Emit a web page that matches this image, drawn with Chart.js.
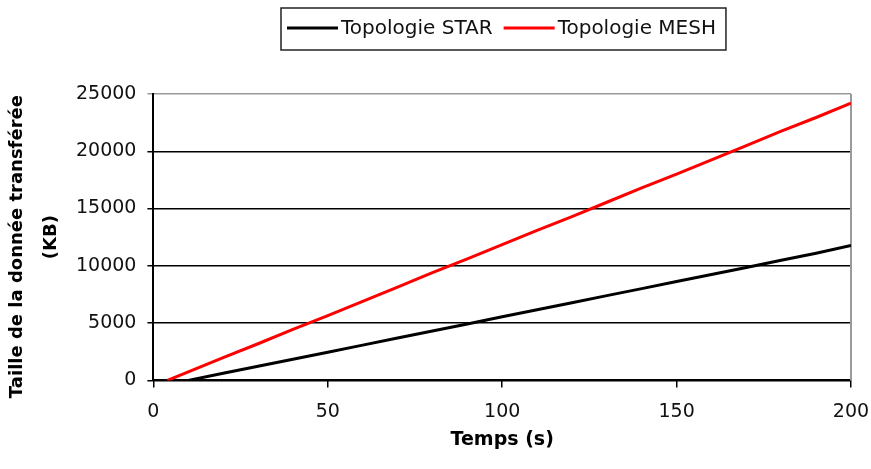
<!DOCTYPE html>
<html>
<head>
<meta charset="utf-8">
<script src="https://cdn.jsdelivr.net/npm/chart.js@4"></script>
<style>
  html, body { margin: 0; padding: 0; background: #fff; }
  #wrap { width: 871px; height: 469px; position: relative; }
</style>
</head>
<body>
<div id="wrap"><canvas id="chart"></canvas></div>
<script>
// Transferred data size over time for the two network topologies
const seriesNames = ['Topologie STAR', 'Topologie MESH'];

const starTime = [10, 20, 30, 40, 50, 60, 70, 80, 90, 100, 110, 120, 130, 140, 150, 160, 170, 180, 190, 200];
const starSize = [0, 620, 1230, 1850, 2460, 3080, 3700, 4310, 4930, 5550, 6160, 6780, 7400, 8010, 8630, 9250, 9860, 10480, 11100, 11780];

const meshTime = [4, 10, 20, 30, 40, 50, 60, 70, 80, 90, 100, 110, 120, 130, 140, 150, 160, 170, 180, 190, 200];
const meshSize = [0, 740, 1980, 3200, 4450, 5650, 6900, 8150, 9400, 10600, 11850, 13100, 14300, 15550, 16800, 18000, 19250, 20500, 21750, 22950, 24200];

const xTicks = [0, 50, 100, 150, 200];
const yTicks = [0, 5000, 10000, 15000, 20000, 25000];

const xTitle = 'Temps (s)';
// trailing spaces nudge the long rotated line slightly downwards
const yTitle = ['Taille de la donnée transférée   ', '(KB)'];

const FONT = 'DejaVu Sans';

const toPoints = (xs, ys) => xs.map((x, i) => ({ x, y: ys[i] }));

// Legend drawn as a framed box with line samples
const framedLegend = {
  id: 'framedLegend',
  afterDraw(chart, args, o) {
    const { ctx } = chart;
    ctx.save();
    ctx.font = `${o.fontSize}px "${o.fontFamily}"`;
    ctx.textBaseline = 'middle';
    ctx.textAlign = 'left';
    const mid = o.top + o.height / 2;
    let x = o.left + o.padLeft;
    const sets = chart.data.datasets;
    sets.forEach((ds, i) => {
      ctx.strokeStyle = ds.borderColor;
      ctx.lineWidth = o.sampleWidth;
      ctx.beginPath();
      ctx.moveTo(x, mid - 1);
      ctx.lineTo(x + o.sampleLength, mid - 1);
      ctx.stroke();
      x += o.sampleLength + o.gap;
      ctx.fillStyle = o.color;
      ctx.fillText(ds.label, x, mid);
      x += ctx.measureText(ds.label).width;
      if (i < sets.length - 1) x += o.itemGap;
    });
    const right = x + o.padRight;
    ctx.strokeStyle = '#222';
    ctx.lineWidth = 1.5;
    ctx.strokeRect(o.left, o.top, right - o.left, o.height);
    ctx.restore();
  }
};

// Grey frame on the right side of the plot area
const plotFrame = {
  id: 'plotFrame',
  beforeDatasetsDraw(chart) {
    const { ctx, chartArea: a } = chart;
    ctx.save();
    ctx.strokeStyle = '#9a9a9a';
    ctx.lineWidth = 2;
    ctx.beginPath();
    ctx.moveTo(a.right, a.top);
    ctx.lineTo(a.right, a.bottom);
    ctx.stroke();
    ctx.restore();
  }
};

const plainNumber = (v) => String(v);

new Chart(document.getElementById('chart'), {
  type: 'line',
  data: {
    datasets: [
      {
        label: seriesNames[0],
        data: toPoints(starTime, starSize),
        borderColor: '#000000',
        backgroundColor: '#000000',
        borderWidth: 3,
        pointRadius: 0,
        tension: 0
      },
      {
        label: seriesNames[1],
        data: toPoints(meshTime, meshSize),
        borderColor: '#ff0000',
        backgroundColor: '#ff0000',
        borderWidth: 3,
        pointRadius: 0,
        tension: 0
      }
    ]
  },
  options: {
    responsive: true,
    maintainAspectRatio: false,
    animation: false,
    layout: { padding: { top: 94, right: 20, bottom: 0, left: 0 } },
    plugins: {
      legend: { display: false },
      tooltip: { enabled: false },
      framedLegend: {
        left: 281, top: 8, height: 42,
        padLeft: 6, padRight: 10, sampleLength: 51, sampleWidth: 3,
        gap: 3, itemGap: 11,
        fontSize: 20, fontFamily: FONT, color: '#111'
      }
    },
    scales: {
      x: {
        type: 'linear',
        min: xTicks[0],
        max: xTicks[xTicks.length - 1],
        afterBuildTicks: (s) => { s.ticks = xTicks.map(v => ({ value: v })); },
        // the last label may overhang into the right margin
        afterFit: (s) => { s.paddingRight = 0; },
        ticks: {
          color: '#111',
          font: { family: FONT, size: 19 },
          padding: 13,
          maxRotation: 0,
          callback: plainNumber
        },
        grid: {
          drawOnChartArea: false,
          drawTicks: true,
          tickLength: 7,
          color: '#000',
          lineWidth: 1.5
        },
        border: { display: true, color: '#000', width: 2 },
        title: {
          display: true,
          text: xTitle,
          color: '#000',
          font: { family: FONT, size: 19, weight: 'bold' },
          padding: { top: -8, bottom: 18 }
        }
      },
      y: {
        type: 'linear',
        min: yTicks[0],
        max: yTicks[yTicks.length - 1],
        afterBuildTicks: (s) => { s.ticks = yTicks.map(v => ({ value: v })); },
        ticks: {
          color: '#111',
          font: { family: FONT, size: 19 },
          padding: 11,
          callback: plainNumber
        },
        grid: {
          drawOnChartArea: true,
          tickLength: 6,
          color: (c) => (c.tick && c.tick.value === yTicks[yTicks.length - 1] ? '#9a9a9a' : '#000'),
          lineWidth: 1.5
        },
        border: { display: true, color: '#000', width: 2 },
        title: {
          display: true,
          text: yTitle,
          color: '#000',
          font: { family: FONT, size: 18, weight: 'bold', lineHeight: 1.86 },
          padding: { top: 1, bottom: -3 }
        }
      }
    }
  },
  plugins: [framedLegend, plotFrame]
});
</script>
</body>
</html>
